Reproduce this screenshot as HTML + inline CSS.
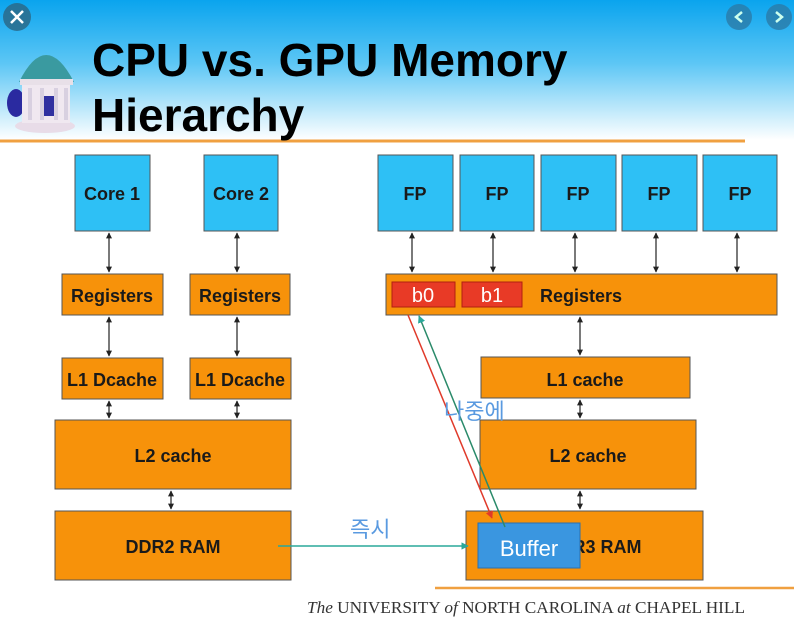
<!DOCTYPE html>
<html><head><meta charset="utf-8"><style>
html,body{margin:0;padding:0;width:794px;height:619px;overflow:hidden;background:#fff}
svg{display:block}
</style></head><body>
<svg width="794" height="619" viewBox="0 0 794 619" xmlns="http://www.w3.org/2000/svg" font-family="Liberation Sans, sans-serif">
<defs>
<linearGradient id="bg" x1="0" y1="0" x2="0" y2="1">
<stop offset="0" stop-color="#0aa4ee"/><stop offset="0.45" stop-color="#5cc6f5"/><stop offset="1" stop-color="#ffffff"/>
</linearGradient>
<marker id="a" viewBox="0 0 10 10" refX="9" refY="5" markerWidth="5" markerHeight="5" orient="auto-start-reverse"><path d="M0,0L10,5L0,10z" fill="#222"/></marker>
<marker id="t" viewBox="0 0 10 10" refX="9" refY="5" markerWidth="5" markerHeight="5" orient="auto"><path d="M0,0L10,5L0,10z" fill="#2aa89a"/></marker>
<marker id="r" viewBox="0 0 10 10" refX="9" refY="5" markerWidth="5" markerHeight="5" orient="auto"><path d="M0,0L10,5L0,10z" fill="#e03a2a"/></marker>
</defs>
<rect width="794" height="140" fill="url(#bg)"/>
<line x1="0" y1="141" x2="745" y2="141" stroke="#f0a040" stroke-width="3"/>
<circle cx="17" cy="17" r="14" fill="#2a6a8a" opacity="0.85"/>
<path d="M11,11L23,23M23,11L11,23" stroke="#fff" stroke-width="2.5"/>
<circle cx="739" cy="17" r="13" fill="#2a7aa8" opacity="0.8"/>
<path d="M742,12L736,17L742,22" stroke="#cfe" stroke-width="2.5" fill="none"/>
<circle cx="779" cy="17" r="13" fill="#2a7aa8" opacity="0.8"/>
<path d="M776,12L782,17L776,22" stroke="#cfe" stroke-width="2.5" fill="none"/>
<ellipse cx="16" cy="103" rx="9" ry="14" fill="#2a2aa0"/>
<ellipse cx="45" cy="126" rx="30" ry="7" fill="#e8dce8"/>
<rect x="22" y="85" width="48" height="38" fill="#f0e8f0"/>
<rect x="28" y="88" width="4" height="32" fill="#d8d0e0"/><rect x="40" y="88" width="4" height="32" fill="#d8d0e0"/><rect x="54" y="88" width="4" height="32" fill="#d8d0e0"/><rect x="64" y="88" width="4" height="32" fill="#d8d0e0"/>
<rect x="44" y="96" width="10" height="20" fill="#3030a0"/>
<path d="M19,82 Q46,28 74,82 Z" fill="#3a9aa0"/>
<rect x="20" y="79" width="53" height="6" fill="#e8e0e8"/>
<text x="92" y="76" font-size="46" font-weight="bold" fill="#000">CPU vs. GPU Memory</text>
<text x="92" y="131" font-size="46" font-weight="bold" fill="#000">Hierarchy</text>
<g stroke="#555" stroke-width="1">
<rect x="75" y="155" width="75" height="76" fill="#2ec0f5"/>
<rect x="204" y="155" width="74" height="76" fill="#2ec0f5"/>
<rect x="62" y="274" width="101" height="41" fill="#f7920a"/>
<rect x="190" y="274" width="100" height="41" fill="#f7920a"/>
<rect x="62" y="358" width="101" height="41" fill="#f7920a"/>
<rect x="190" y="358" width="101" height="41" fill="#f7920a"/>
<rect x="55" y="420" width="236" height="69" fill="#f7920a"/>
<rect x="55" y="511" width="236" height="69" fill="#f7920a"/>
<rect x="378" y="155" width="75" height="76" fill="#2ec0f5"/>
<rect x="460" y="155" width="74" height="76" fill="#2ec0f5"/>
<rect x="541" y="155" width="75" height="76" fill="#2ec0f5"/>
<rect x="622" y="155" width="75" height="76" fill="#2ec0f5"/>
<rect x="703" y="155" width="74" height="76" fill="#2ec0f5"/>
<rect x="386" y="274" width="391" height="41" fill="#f7920a"/>
<rect x="481" y="357" width="209" height="41" fill="#f7920a"/>
<rect x="480" y="420" width="216" height="69" fill="#f7920a"/>
<rect x="466" y="511" width="237" height="69" fill="#f7920a"/>
</g>
<g stroke="#222" stroke-width="1.2" marker-start="url(#a)" marker-end="url(#a)">
<line x1="109" y1="233" x2="109" y2="272"/><line x1="237" y1="233" x2="237" y2="272"/>
<line x1="109" y1="317" x2="109" y2="356"/><line x1="237" y1="317" x2="237" y2="356"/>
<line x1="109" y1="401" x2="109" y2="418"/><line x1="237" y1="401" x2="237" y2="418"/>
<line x1="171" y1="491" x2="171" y2="509"/>
<line x1="412" y1="233" x2="412" y2="272"/><line x1="493" y1="233" x2="493" y2="272"/>
<line x1="575" y1="233" x2="575" y2="272"/><line x1="656" y1="233" x2="656" y2="272"/>
<line x1="737" y1="233" x2="737" y2="272"/>
<line x1="580" y1="317" x2="580" y2="355"/>
<line x1="580" y1="400" x2="580" y2="418"/>
<line x1="580" y1="491" x2="580" y2="509"/>
</g>
<g font-size="18" font-weight="bold" fill="#1a1a1a" text-anchor="middle">
<text x="112" y="200">Core 1</text><text x="241" y="200">Core 2</text>
<text x="112" y="302">Registers</text><text x="240" y="302">Registers</text>
<text x="112" y="386">L1 Dcache</text><text x="240" y="386">L1 Dcache</text>
<text x="173" y="462">L2 cache</text><text x="173" y="553">DDR2 RAM</text>
<text x="415" y="200">FP</text><text x="497" y="200">FP</text><text x="578" y="200">FP</text><text x="659" y="200">FP</text><text x="740" y="200">FP</text>
<text x="581" y="302">Registers</text>
<text x="585" y="386">L1 cache</text><text x="588" y="462">L2 cache</text>
<text x="594" y="553">DDR3 RAM</text>
</g>
<rect x="392" y="282" width="63" height="25" fill="#e83a26" stroke="#b02010"/>
<rect x="462" y="282" width="60" height="25" fill="#e83a26" stroke="#b02010"/>
<text x="423" y="302" font-size="20" fill="#fff" text-anchor="middle">b0</text>
<text x="492" y="302" font-size="20" fill="#fff" text-anchor="middle">b1</text>
<rect x="478" y="523" width="102" height="45" fill="#3a96e0" stroke="#2a70b0"/>
<text x="529" y="556" font-size="22" fill="#fff" text-anchor="middle">Buffer</text>
<line x1="408" y1="315" x2="492" y2="518" stroke="#e03a2a" stroke-width="1.5" marker-end="url(#r)"/>
<line x1="505" y1="527" x2="419" y2="316" stroke="#2a8a6a" stroke-width="1.5" marker-end="url(#t)"/>
<line x1="278" y1="546" x2="468" y2="546" stroke="#2aa89a" stroke-width="1.5" marker-end="url(#t)"/>
<text x="444" y="419" font-size="22" fill="#5a9ae0" font-family="Liberation Sans, Noto Sans CJK KR, sans-serif">나중에</text>
<text x="350" y="537" font-size="22" fill="#5a9ae0" font-family="Liberation Sans, Noto Sans CJK KR, sans-serif">즉시</text>
<line x1="435" y1="588" x2="794" y2="588" stroke="#f0a040" stroke-width="2.5"/>
<text x="307" y="613" font-size="17" fill="#333" font-family="Liberation Serif, serif" textLength="438" lengthAdjust="spacingAndGlyphs"><tspan font-style="italic">The</tspan> UNIVERSITY <tspan font-style="italic">of</tspan> NORTH CAROLINA <tspan font-style="italic">at</tspan> CHAPEL HILL</text>
</svg>
</body></html>
